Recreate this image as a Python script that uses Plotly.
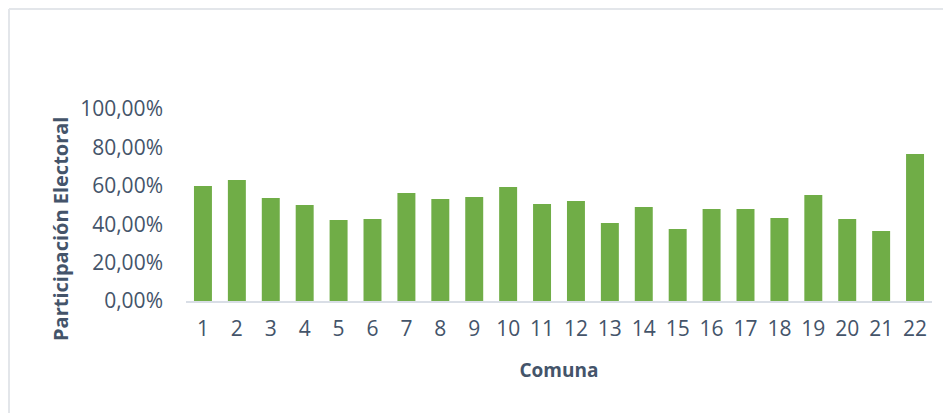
import plotly.graph_objects as go

comunas = [str(i) for i in range(1, 23)]
participacion = [0.599, 0.630, 0.536, 0.500, 0.422, 0.427, 0.563, 0.531, 0.542, 0.594,
                 0.505, 0.521, 0.406, 0.490, 0.375, 0.479, 0.479, 0.432, 0.552, 0.427,
                 0.365, 0.766]
y_ticks = [0, 0.2, 0.4, 0.6, 0.8, 1.0]
y_tick_labels = ["0,00%", "20,00%", "40,00%", "60,00%", "80,00%", "100,00%"]

font_family = "Open Sans, Noto Sans, sans-serif"
text_color = "#44546A"

# the page body has an 8px margin, so the figure is sized to fit the window
W, H = 943, 405
L, T, R, B = 178, 101, 19, 112
pw = W - L - R
ph = H - T - B

fig = go.Figure()
fig.add_trace(go.Bar(
    x=comunas,
    y=participacion,
    marker=dict(color="#70AD47", line=dict(width=0)),
    hoverinfo="x+y",
))

fig.update_layout(
    width=W,
    height=H,
    margin=dict(l=L, r=R, t=T, b=B),
    paper_bgcolor="white",
    plot_bgcolor="white",
    bargap=0.47,
    showlegend=False,
    font=dict(family=font_family, color=text_color),
    xaxis=dict(
        type="category",
        showgrid=False,
        showline=True,
        linecolor="#D9DEE6",
        linewidth=2,
        ticks="",
        tickfont=dict(size=21, color=text_color),
        ticklabelstandoff=8,
        title=dict(text="<b>Comuna</b>", font=dict(size=19, color=text_color), standoff=22),
    ),
    yaxis=dict(
        range=[0, 1.0],
        tickvals=y_ticks,
        ticktext=y_tick_labels,
        showgrid=False,
        zeroline=False,
        showline=False,
        ticks="",
        tickfont=dict(size=21, color=text_color),
        ticklabelstandoff=22,
    ),
    annotations=[
        dict(text="<b>Participación Electoral</b>", textangle=-90,
             xref="paper", yref="paper", x=(52 - L) / pw, y=(T + ph - 221) / ph,
             xanchor="center", yanchor="middle", showarrow=False,
             font=dict(size=20, color=text_color, family=font_family)),
    ],
)

left_x = 1.0 / pw - L / pw
top_y = (ph + T - 1.0) / ph
fig.layout.shapes = [
    dict(type="line", xref="paper", yref="paper", x0=left_x, x1=(W - L) / pw + 0.01,
         y0=top_y, y1=top_y, line=dict(color="#E3E6EA", width=2)),
    dict(type="line", xref="paper", yref="paper", x0=left_x, x1=left_x,
         y0=top_y, y1=-B / ph - 0.01, line=dict(color="#E3E6EA", width=2)),
]

fig.write_html("out.html")
